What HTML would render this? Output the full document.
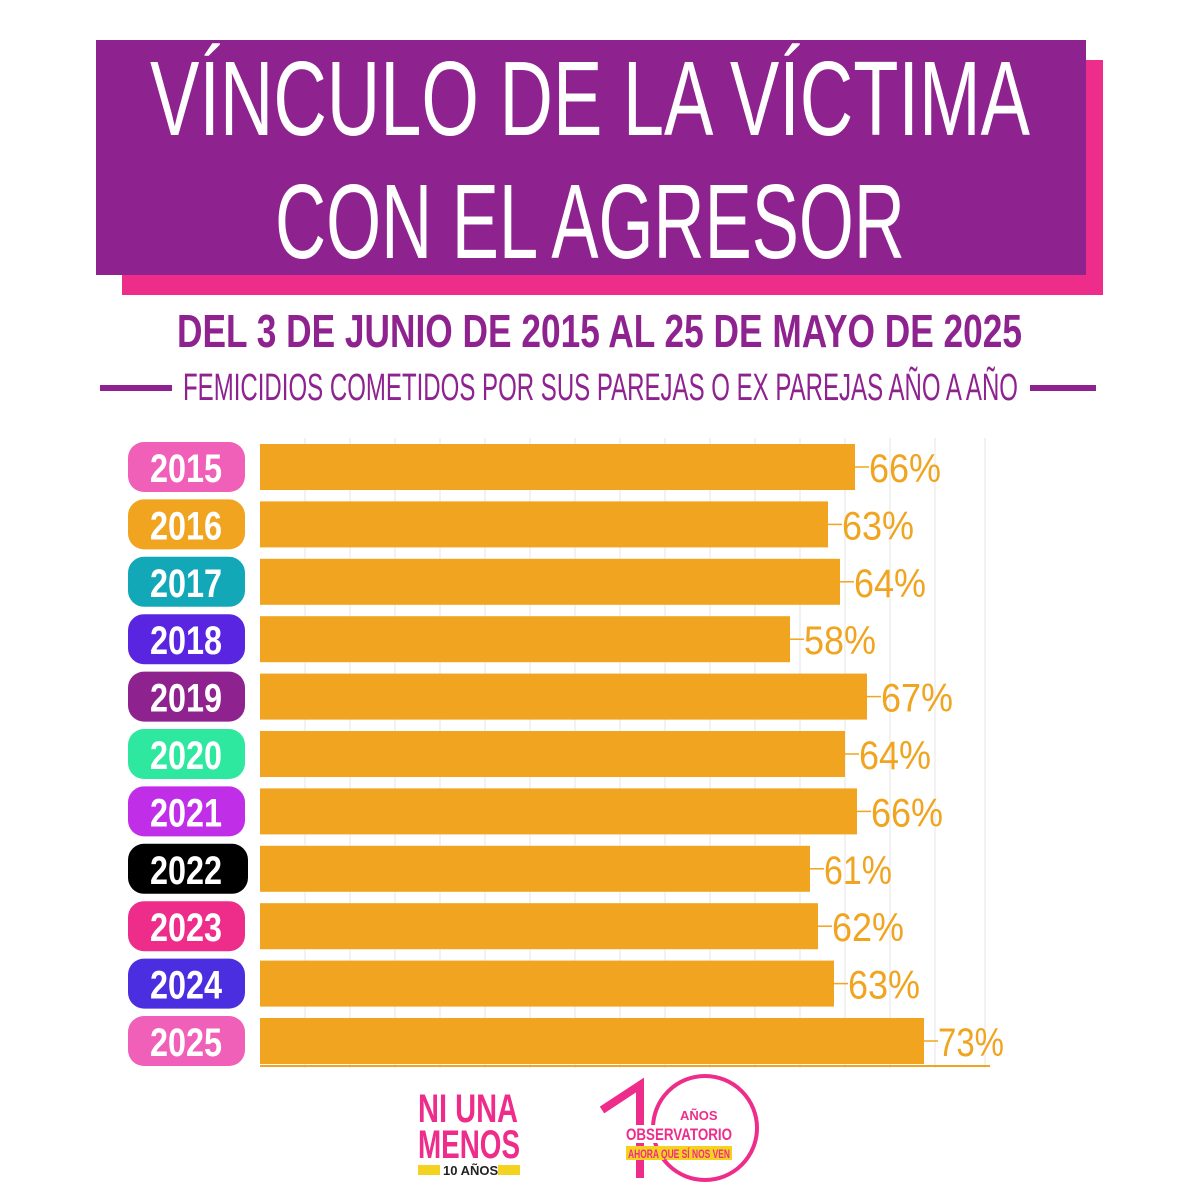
<!DOCTYPE html>
<html><head><meta charset="utf-8"><style>html,body{margin:0;padding:0;background:#fff}svg{display:block}</style></head>
<body>
<svg width="1200" height="1200" viewBox="0 0 1200 1200" xmlns="http://www.w3.org/2000/svg" font-family="Liberation Sans, sans-serif">
<rect x="0" y="0" width="1200" height="1200" fill="#fff"/>
<rect x="122" y="60" width="981" height="235" fill="#ee2c8a"/>
<rect x="96" y="40" width="990" height="235" fill="#8e2390"/>
<text x="150" y="135" font-size="106" fill="#fff" textLength="880" lengthAdjust="spacingAndGlyphs">VÍNCULO DE LA VÍCTIMA</text>
<text x="275" y="258" font-size="106" fill="#fff" textLength="630" lengthAdjust="spacingAndGlyphs">CON EL AGRESOR</text>
<text x="177" y="347" font-size="46" font-weight="bold" fill="#8e2390" textLength="845" lengthAdjust="spacingAndGlyphs">DEL 3 DE JUNIO DE 2015 AL 25 DE MAYO DE 2025</text>
<rect x="100" y="385" width="72" height="6" fill="#8e2390"/>
<rect x="1030" y="385" width="66" height="6" fill="#8e2390"/>
<text x="183" y="400" font-size="38" fill="#8e2390" textLength="835" lengthAdjust="spacingAndGlyphs">FEMICIDIOS COMETIDOS POR SUS PAREJAS O EX PAREJAS AÑO A AÑO</text>
<g stroke="#eeeeee" stroke-width="1.5">
<line x1="305" y1="438" x2="305" y2="1068"/><line x1="350" y1="438" x2="350" y2="1068"/><line x1="395" y1="438" x2="395" y2="1068"/><line x1="440" y1="438" x2="440" y2="1068"/><line x1="485" y1="438" x2="485" y2="1068"/><line x1="530" y1="438" x2="530" y2="1068"/><line x1="575" y1="438" x2="575" y2="1068"/><line x1="620" y1="438" x2="620" y2="1068"/><line x1="665" y1="438" x2="665" y2="1068"/><line x1="710" y1="438" x2="710" y2="1068"/><line x1="755" y1="438" x2="755" y2="1068"/><line x1="800" y1="438" x2="800" y2="1068"/><line x1="845" y1="438" x2="845" y2="1068"/><line x1="890" y1="438" x2="890" y2="1068"/><line x1="935" y1="438" x2="935" y2="1068"/><line x1="985" y1="438" x2="985" y2="1068"/>
</g>
<g font-size="40">
<g transform="translate(0,467)">
<rect x="128" y="-25" width="117" height="50" rx="16" fill="#f060b8"/>
<text x="150" y="15" font-weight="bold" fill="#fff" textLength="72" lengthAdjust="spacingAndGlyphs">2015</text>
<rect x="260" y="-23" width="595" height="46" fill="#f0a41f"/>
<line x1="855" y1="0" x2="869" y2="0" stroke="#f0a41f" stroke-width="1.5"/>
<text x="869" y="15" fill="#f0a41f" textLength="72" lengthAdjust="spacingAndGlyphs">66%</text>
</g>
<g transform="translate(0,524.4)">
<rect x="128" y="-25" width="117" height="50" rx="16" fill="#f0a41f"/>
<text x="150" y="15" font-weight="bold" fill="#fff" textLength="72" lengthAdjust="spacingAndGlyphs">2016</text>
<rect x="260" y="-23" width="568" height="46" fill="#f0a41f"/>
<line x1="828" y1="0" x2="842" y2="0" stroke="#f0a41f" stroke-width="1.5"/>
<text x="842" y="15" fill="#f0a41f" textLength="72" lengthAdjust="spacingAndGlyphs">63%</text>
</g>
<g transform="translate(0,581.8)">
<rect x="128" y="-25" width="117" height="50" rx="16" fill="#13a8b8"/>
<text x="150" y="15" font-weight="bold" fill="#fff" textLength="72" lengthAdjust="spacingAndGlyphs">2017</text>
<rect x="260" y="-23" width="580" height="46" fill="#f0a41f"/>
<line x1="840" y1="0" x2="854" y2="0" stroke="#f0a41f" stroke-width="1.5"/>
<text x="854" y="15" fill="#f0a41f" textLength="72" lengthAdjust="spacingAndGlyphs">64%</text>
</g>
<g transform="translate(0,639.2)">
<rect x="128" y="-25" width="117" height="50" rx="16" fill="#5a25e0"/>
<text x="150" y="15" font-weight="bold" fill="#fff" textLength="72" lengthAdjust="spacingAndGlyphs">2018</text>
<rect x="260" y="-23" width="530" height="46" fill="#f0a41f"/>
<line x1="790" y1="0" x2="804" y2="0" stroke="#f0a41f" stroke-width="1.5"/>
<text x="804" y="15" fill="#f0a41f" textLength="72" lengthAdjust="spacingAndGlyphs">58%</text>
</g>
<g transform="translate(0,696.6)">
<rect x="128" y="-25" width="117" height="50" rx="16" fill="#8e2390"/>
<text x="150" y="15" font-weight="bold" fill="#fff" textLength="72" lengthAdjust="spacingAndGlyphs">2019</text>
<rect x="260" y="-23" width="607" height="46" fill="#f0a41f"/>
<line x1="867" y1="0" x2="881" y2="0" stroke="#f0a41f" stroke-width="1.5"/>
<text x="881" y="15" fill="#f0a41f" textLength="72" lengthAdjust="spacingAndGlyphs">67%</text>
</g>
<g transform="translate(0,754)">
<rect x="128" y="-25" width="117" height="50" rx="16" fill="#2ee8a0"/>
<text x="150" y="15" font-weight="bold" fill="#fff" textLength="72" lengthAdjust="spacingAndGlyphs">2020</text>
<rect x="260" y="-23" width="585" height="46" fill="#f0a41f"/>
<line x1="845" y1="0" x2="859" y2="0" stroke="#f0a41f" stroke-width="1.5"/>
<text x="859" y="15" fill="#f0a41f" textLength="72" lengthAdjust="spacingAndGlyphs">64%</text>
</g>
<g transform="translate(0,811.4)">
<rect x="128" y="-25" width="117" height="50" rx="16" fill="#c02ee8"/>
<text x="150" y="15" font-weight="bold" fill="#fff" textLength="72" lengthAdjust="spacingAndGlyphs">2021</text>
<rect x="260" y="-23" width="597" height="46" fill="#f0a41f"/>
<line x1="857" y1="0" x2="871" y2="0" stroke="#f0a41f" stroke-width="1.5"/>
<text x="871" y="15" fill="#f0a41f" textLength="72" lengthAdjust="spacingAndGlyphs">66%</text>
</g>
<g transform="translate(0,868.8)">
<rect x="128" y="-25" width="120" height="50" rx="16" fill="#000"/>
<text x="150" y="15" font-weight="bold" fill="#fff" textLength="72" lengthAdjust="spacingAndGlyphs">2022</text>
<rect x="260" y="-23" width="550" height="46" fill="#f0a41f"/>
<line x1="810" y1="0" x2="824" y2="0" stroke="#f0a41f" stroke-width="1.5"/>
<text x="824" y="15" fill="#f0a41f" textLength="68" lengthAdjust="spacingAndGlyphs">61%</text>
</g>
<g transform="translate(0,926.2)">
<rect x="128" y="-25" width="117" height="50" rx="16" fill="#ee2c8a"/>
<text x="150" y="15" font-weight="bold" fill="#fff" textLength="72" lengthAdjust="spacingAndGlyphs">2023</text>
<rect x="260" y="-23" width="558" height="46" fill="#f0a41f"/>
<line x1="818" y1="0" x2="832" y2="0" stroke="#f0a41f" stroke-width="1.5"/>
<text x="832" y="15" fill="#f0a41f" textLength="72" lengthAdjust="spacingAndGlyphs">62%</text>
</g>
<g transform="translate(0,983.6)">
<rect x="128" y="-25" width="117" height="50" rx="16" fill="#4a2ee0"/>
<text x="150" y="15" font-weight="bold" fill="#fff" textLength="72" lengthAdjust="spacingAndGlyphs">2024</text>
<rect x="260" y="-23" width="574" height="46" fill="#f0a41f"/>
<line x1="834" y1="0" x2="848" y2="0" stroke="#f0a41f" stroke-width="1.5"/>
<text x="848" y="15" fill="#f0a41f" textLength="72" lengthAdjust="spacingAndGlyphs">63%</text>
</g>
<g transform="translate(0,1041)">
<rect x="128" y="-25" width="117" height="50" rx="16" fill="#f060b8"/>
<text x="150" y="15" font-weight="bold" fill="#fff" textLength="72" lengthAdjust="spacingAndGlyphs">2025</text>
<rect x="260" y="-23" width="664" height="46" fill="#f0a41f"/>
<line x1="924" y1="0" x2="938" y2="0" stroke="#f0a41f" stroke-width="1.5"/>
<text x="938" y="15" fill="#f0a41f" textLength="66" lengthAdjust="spacingAndGlyphs">73%</text>
</g>
</g>
<line x1="260" y1="1066" x2="990" y2="1066" stroke="#f0a41f" stroke-width="2"/>
<text x="418" y="1122" font-size="40" font-weight="bold" fill="#ee2c8a" textLength="100" lengthAdjust="spacingAndGlyphs">NI UNA</text>
<text x="418" y="1158" font-size="40" font-weight="bold" fill="#ee2c8a" textLength="102" lengthAdjust="spacingAndGlyphs">MENOS</text>
<rect x="418" y="1165" width="22" height="10" fill="#f5d21f"/><rect x="498" y="1165" width="22" height="10" fill="#f5d21f"/>
<text x="443" y="1175" font-size="13" font-weight="bold" fill="#222">10 AÑOS</text>
<circle cx="705" cy="1128" r="52" fill="none" stroke="#ee2c8a" stroke-width="4"/>
<path d="M602 1110 L640 1085 L640 1178" fill="none" stroke="#ee2c8a" stroke-width="8"/>
<text x="680" y="1120" font-size="13" font-weight="bold" fill="#ee2c8a">AÑOS</text>
<rect x="624" y="1125" width="110" height="18" fill="#fff"/>
<text x="626" y="1140" font-size="17" font-weight="bold" fill="#ee2c8a" textLength="106" lengthAdjust="spacingAndGlyphs">OBSERVATORIO</text>
<rect x="626" y="1146" width="106" height="14" fill="#f5d21f"/>
<text x="628" y="1158" font-size="12" font-weight="bold" fill="#ee2c8a" textLength="102" lengthAdjust="spacingAndGlyphs">AHORA QUE SÍ NOS VEN</text>
</svg>
</body></html>
